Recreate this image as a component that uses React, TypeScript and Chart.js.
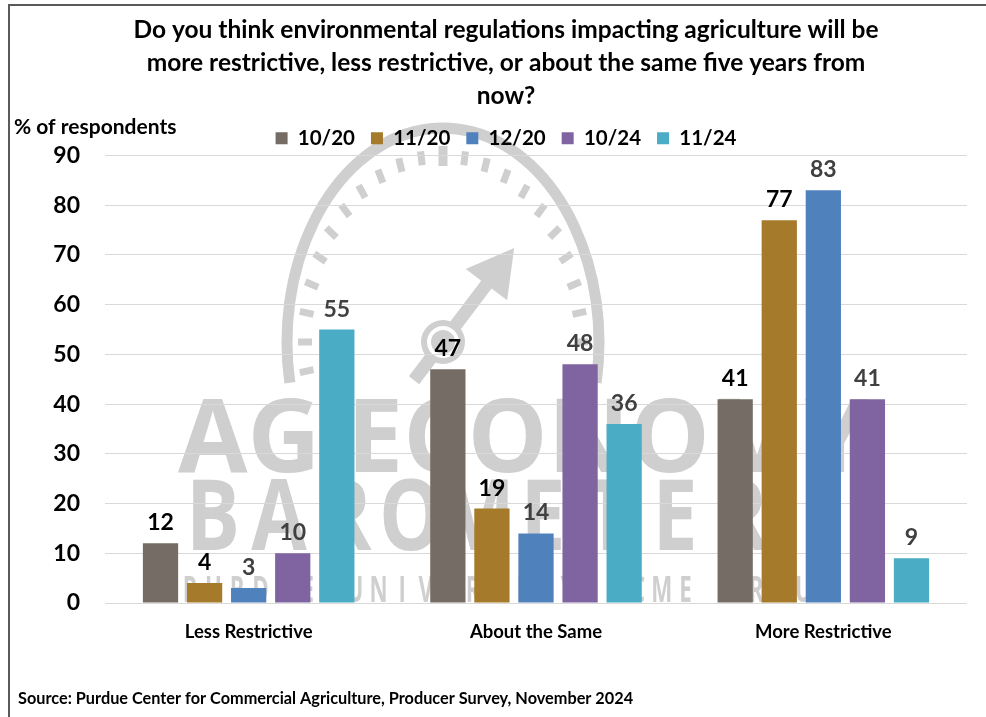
import React, { useEffect, useRef } from "react";
import { Chart, registerables } from "chart.js";

Chart.register(...registerables);

// ---- chart data ----
const categories = ["Less Restrictive", "About the Same", "More Restrictive"];
const surveyPeriods = ["10/20", "11/20", "12/20", "10/24", "11/24"];
const oct2020 = [12, 47, 41];
const nov2020 = [4, 19, 77];
const dec2020 = [3, 14, 83];
const oct2024 = [10, 48, 41];
const nov2024 = [55, 36, 9];
const yMin = 0;
const yMax = 90;
const yStep = 10;

const titleLines = [
  "Do you think environmental regulations impacting agriculture will be",
  "more restrictive, less restrictive, or about the same five years from",
  "now?",
];
const yAxisTitle = "% of respondents";
const sourceNote =
  "Source: Purdue Center for Commercial Agriculture, Producer Survey, November 2024";

// ---- styling ----
const FONT = "Lato, 'Open Sans', 'DejaVu Sans', sans-serif";
const WM_FONT = "'Open Sans', Lato, 'DejaVu Sans', sans-serif";
const barColors = ["#756C65", "#A57A2A", "#4F81BD", "#8064A2", "#4BACC6"];
const valueLabelColors = ["#000000", "#000000", "#404040", "#404040", "#404040"];
const gridColor = "#D9D9D9";
const watermarkGray = "#CFCFCF";

const seriesValues = [oct2020, nov2020, dec2020, oct2024, nov2024];

const rad = (d: number) => (d * Math.PI) / 180;

// Faint gauge logo sitting behind the plot
function drawWatermark(ctx: CanvasRenderingContext2D) {
  ctx.save();
  ctx.fillStyle = watermarkGray;
  ctx.strokeStyle = watermarkGray;

  const cx = 443;
  const cy = 342;

  // outer rim of the dial
  ctx.lineWidth = 11;
  ctx.lineCap = "butt";
  ctx.beginPath();
  ctx.ellipse(cx, cy, 156, 214, 0, rad(169), rad(371));
  ctx.stroke();

  // tick dashes
  const rx = 138;
  const ry = 186;
  for (let i = 0; i < 23; i++) {
    const a = rad(171 + i * 9);
    const px = rx * Math.cos(a);
    const py = ry * Math.sin(a);
    const len = Math.hypot(px, py);
    const ux = px / len;
    const uy = py / len;
    const big = i === 11;
    const half = big ? 10 : 7;
    ctx.lineWidth = big ? 9 : 7;
    ctx.beginPath();
    ctx.moveTo(cx + px - ux * half, cy + py - uy * half);
    ctx.lineTo(cx + px + ux * half, cy + py + uy * half);
    ctx.stroke();
  }

  // needle
  const ux = 0.603;
  const uy = -0.797;
  const nx = 0.797;
  const ny = 0.603;
  ctx.lineWidth = 13;
  ctx.beginPath();
  ctx.moveTo(cx - ux * 48, cy - uy * 48);
  ctx.lineTo(cx + ux * 76, cy + uy * 76);
  ctx.stroke();
  const bx = cx + ux * 72;
  const by = cy + uy * 72;
  ctx.beginPath();
  ctx.moveTo(cx + ux * 118, cy + uy * 118);
  ctx.lineTo(bx + nx * 26, by + ny * 26);
  ctx.lineTo(bx - nx * 26, by - ny * 26);
  ctx.closePath();
  ctx.fill();

  // hub
  ctx.beginPath();
  ctx.arc(cx, cy, 22, 0, Math.PI * 2);
  ctx.fill();
  ctx.fillStyle = "#FFFFFF";
  ctx.beginPath();
  ctx.arc(cx, cy, 16, 0, Math.PI * 2);
  ctx.fill();
  ctx.fillStyle = watermarkGray;
  ctx.beginPath();
  ctx.arc(cx, cy, 12, 0, Math.PI * 2);
  ctx.fill();

  // wordmark
  const fitText = (text: string, x: number, baseline: number, size: number, width: number) => {
    ctx.font = `bold ${size}px ${WM_FONT}`;
    const w = ctx.measureText(text).width;
    ctx.save();
    ctx.translate(x, baseline);
    ctx.scale(width / w, 1);
    ctx.textAlign = "left";
    ctx.textBaseline = "alphabetic";
    ctx.fillText(text, 0, 0);
    ctx.restore();
  };
  fitText("AG ECONOMY", 178, 472, 103, 690);

  // spaced-out lines: one glyph per cell
  const spaced = (text: string, x: number, baseline: number, size: number, cell: number, squeeze: number) => {
    ctx.font = `bold ${size}px ${WM_FONT}`;
    ctx.textAlign = "center";
    ctx.textBaseline = "alphabetic";
    [...text].forEach((ch, i) => {
      ctx.save();
      ctx.translate(x + cell * i + cell / 2, baseline);
      ctx.scale(squeeze, 1);
      ctx.fillText(ch, 0, 0);
      ctx.restore();
    });
  };
  spaced("BAROMETER", 180, 550, 98, 66, 0.82);
  spaced("PURDUE UNIVERSITY  CME GROUP", 178, 602, 36, 23.6, 0.62);

  ctx.restore();
}

const watermarkPlugin = {
  id: "gaugeWatermark",
  beforeDraw(chart: Chart) {
    drawWatermark(chart.ctx);
  },
};

// Pull the plot up closer to the legend row
const legendGapPlugin = {
  id: "legendGap",
  beforeLayout(chart: any) {
    const legend = chart.legend;
    if (legend && !legend.__trimmed) {
      const fit = legend.fit.bind(legend);
      legend.fit = () => {
        fit();
        legend.height -= 3;
      };
      legend.__trimmed = true;
    }
  },
};

const valueLabelPlugin = {
  id: "valueLabels",
  afterDatasetsDraw(chart: Chart) {
    const ctx = chart.ctx;
    ctx.save();
    ctx.font = `bold 23px ${FONT}`;
    ctx.textAlign = "center";
    ctx.textBaseline = "alphabetic";
    chart.data.datasets.forEach((ds, di) => {
      const meta = chart.getDatasetMeta(di);
      ctx.fillStyle = valueLabelColors[di];
      meta.data.forEach((el: any, i: number) => {
        const v = ds.data[i] as number;
        ctx.fillText(String(v), el.x, el.y - 13);
      });
    });
    ctx.restore();
  },
};

const sideTextPlugin = {
  id: "sideTexts",
  afterDraw(chart: Chart) {
    const ctx = chart.ctx;
    ctx.save();
    ctx.fillStyle = "#000000";
    ctx.textAlign = "left";
    ctx.textBaseline = "middle";
    ctx.font = `bold 21px ${FONT}`;
    ctx.fillText(yAxisTitle, 14, 127);
    ctx.font = `bold 16.3px ${FONT}`;
    ctx.fillText(sourceNote, 18, 699);
    ctx.restore();
  },
};

export default function App() {
  const canvasRef = useRef<HTMLCanvasElement | null>(null);

  useEffect(() => {
    if (!canvasRef.current) return;
    const chart = new Chart(canvasRef.current, {
      type: "bar",
      data: {
        labels: categories,
        datasets: surveyPeriods.map((p, i) => ({
          label: p,
          data: seriesValues[i],
          backgroundColor: barColors[i],
          borderWidth: 0,
          barPercentage: 0.8,
          categoryPercentage: 0.767,
        })),
      },
      options: {
        animation: false,
        responsive: false,
        devicePixelRatio: 1,
        layout: { padding: { left: 45, right: 19, top: 0, bottom: 64 } },
        plugins: {
          title: {
            display: true,
            text: titleLines,
            color: "#000000",
            font: { family: FONT, size: 24.5, weight: "bold", lineHeight: "33px" },
            padding: { top: 13.5, bottom: -0.5 },
          },
          legend: {
            display: true,
            position: "top",
            labels: {
              boxWidth: 12,
              boxHeight: 12,
              padding: 16,
              color: "#000000",
              font: { family: FONT, size: 20.5, weight: "bold" },
            },
          },
          tooltip: { enabled: false },
        },
        scales: {
          x: {
            grid: { display: false, drawTicks: false },
            border: { display: false },
            ticks: {
              color: "#000000",
              padding: 18,
              font: { family: FONT, size: 18.5, weight: "bold" },
            },
            afterFit(scale: any) {
              scale.height = 50;
            },
          },
          y: {
            min: yMin,
            max: yMax,
            ticks: {
              stepSize: yStep,
              color: "#000000",
              padding: 25,
              font: { family: FONT, size: 23, weight: "bold" },
            },
            grid: { color: gridColor, lineWidth: 1, drawTicks: false },
            border: { display: false },
            afterFit(scale: any) {
              scale.width = 60;
            },
          },
        },
      },
      plugins: [legendGapPlugin, watermarkPlugin, valueLabelPlugin, sideTextPlugin],
    });
    return () => chart.destroy();
  }, []);

  return (
    <div style={{ position: "absolute", left: 0, top: 0, width: 986, height: 717, background: "#FFFFFF", overflow: "hidden" }}>
      <div
        style={{
          position: "absolute",
          left: 8,
          top: 4,
          width: 990,
          height: 730,
          borderTop: "2px solid #5A5A5A",
          borderLeft: "2px solid #5A5A5A",
          boxSizing: "border-box",
        }}
      />
      <canvas ref={canvasRef} width={986} height={717} style={{ position: "absolute", left: 0, top: 0 }} />
    </div>
  );
}
